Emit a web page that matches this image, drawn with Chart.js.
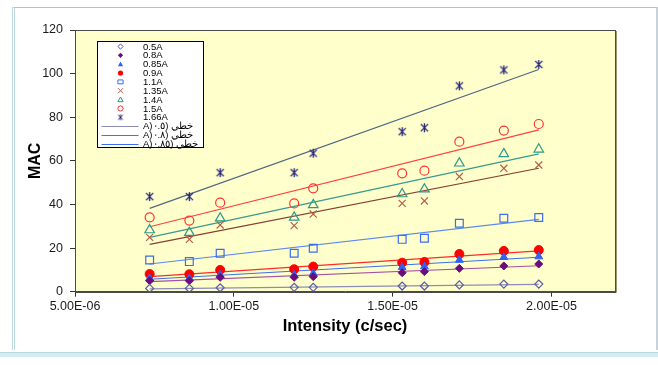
<!DOCTYPE html>
<html>
<head>
<meta charset="utf-8">
<script src="https://cdn.jsdelivr.net/npm/chart.js@4.4.1/dist/chart.umd.min.js"></script>
<style>
  html, body { margin: 0; padding: 0; background: #ffffff; }
  #wrap { position: relative; width: 658px; height: 365px; overflow: hidden; }
  canvas { position: absolute; left: 0; top: 0; }
  .frame { position: absolute; left: 12px; top: 7px; width: 641px; height: 342px;
           border-top: 1px solid #b9bec4; border-right: 2px solid #c9d2d8;
           border-left: 3px double #bcd7de; pointer-events: none; }
  .band { position: absolute; left: 0; top: 352px; width: 658px; height: 4px;
          background: #d4ecf1; border-top: 1px solid #b8d6de; }
</style>
</head>
<body>
<div id="wrap">
  <canvas id="c" width="658" height="365"></canvas>
  <div class="frame"></div>
  <div class="band"></div>
</div>
<script>
// Intensity (c/sec) of each measurement
const intensity = [7.35e-6, 8.6e-6, 9.57e-6, 1.19e-5, 1.25e-5, 1.53e-5, 1.60e-5, 1.71e-5, 1.85e-5, 1.96e-5];

// MAC values per current setting
const mac05  = [1.5, 1.5, 1.8, 2.0, 2.0, 2.6, 2.6, 3.1, 3.5, 3.5];
const mac08  = [5.0, 5.0, 6.6, 6.6, 6.9, 8.7, 9.2, 10.7, 11.8, 12.7];
const mac085 = [6.1, 6.1, 7.7, 7.7, 8.4, 11.2, 11.5, 14.5, 15.8, 16.1];
const mac09  = [8.1, 8.0, 10.0, 10.3, 11.5, 13.3, 13.6, 17.3, 18.7, 19.1];
const mac11  = [14.5, 13.8, 17.6, 17.6, 19.9, 24.0, 24.5, 31.4, 33.7, 34.0];
const mac135 = [24.9, 24.0, 30.6, 30.3, 35.6, 40.5, 41.6, 52.8, 56.6, 58.1];
const mac14  = [28.3, 27.1, 33.7, 34.1, 39.8, 44.8, 47.0, 58.9, 63.2, 65.3];
const mac15  = [34.1, 32.6, 40.8, 40.5, 47.4, 54.3, 55.5, 68.8, 73.9, 76.9];
const mac166 = [43.6, 43.6, 54.6, 54.6, 63.5, 73.4, 75.2, 94.4, 101.7, 104.2];

// Linear trend lines: value at the first and at the last intensity
const trendStart = [1.3, 4.6, 5.7, 6.9, 12.7, 21.7, 24.9, 29.8, 38.2];
const trendEnd   = [3.4, 11.9, 15.8, 18.7, 33.2, 56.6, 63.2, 74.2, 101.9];

const seriesNames = ['0.5A', '0.8A', '0.85A', '0.9A', '1.1A', '1.35A', '1.4A', '1.5A', '1.66A'];
// Trend line captions shown in the key (drawn right-to-left)
const trendNames = ['خطي (٠.٥(A', 'خطي (٠.٨(A', 'خطي (٠.٨٥(A'];

const xTickValues = [5e-6, 1e-5, 1.5e-5, 2e-5];
const yTickStep = 20;

// asterisk marker: an X crossed by a vertical bar
function makeStar(size, color, lw) {
  const cv = document.createElement('canvas');
  cv.width = size; cv.height = size;
  const g = cv.getContext('2d');
  const c = size / 2, r = size / 2 - 1;
  g.strokeStyle = color; g.lineWidth = lw;
  g.beginPath();
  g.moveTo(c - r * 0.8, c - r * 0.8); g.lineTo(c + r * 0.8, c + r * 0.8);
  g.moveTo(c + r * 0.8, c - r * 0.8); g.lineTo(c - r * 0.8, c + r * 0.8);
  g.moveTo(c, c - r); g.lineTo(c, c + r);
  g.stroke();
  return cv;
}

const styles = [
  { marker: 'rectRot',  color: '#5a5aa6', fill: false, r: 4,   trend: '#8c8cba' },
  { marker: 'rectRot',  color: '#6a0c7c', fill: true,  r: 4,   trend: '#a8509e' },
  { marker: 'triangle', color: '#2f62f5', fill: true,  r: 4.5, trend: '#3d6ef0' },
  { marker: 'circle',   color: '#ff0000', fill: true,  r: 4.5, trend: '#ff2a2a' },
  { marker: 'rect',     color: '#3b6cf2', fill: false, r: 5.5, trend: '#5b88f2' },
  { marker: 'crossRot', color: '#b0604e', fill: false, r: 5,   trend: '#8a3c30' },
  { marker: 'triangle', color: '#2a9a8a', fill: false, r: 5.5, trend: '#3a9a8e' },
  { marker: 'circle',   color: '#ff3232', fill: false, r: 4.5, trend: '#ff4040' },
  { marker: 'star',     color: '#22227a', fill: false, r: 5,   trend: '#4f6880' }
];
styles[8].img = makeStar(11, '#22227a', 1.3);
styles[8].imgSmall = makeStar(8, '#22227a', 1);

const series = [mac05, mac08, mac085, mac09, mac11, mac135, mac14, mac15, mac166];

const datasets = [];
series.forEach((vals, i) => {
  const s = styles[i];
  datasets.push({
    type: 'scatter',
    label: seriesNames[i],
    data: vals.map((v, k) => ({ x: intensity[k], y: v })),
    pointStyle: s.img || s.marker,
    pointRadius: s.r,
    pointBorderColor: s.color,
    pointBackgroundColor: s.fill ? s.color : 'rgba(0,0,0,0)',
    pointBorderWidth: s.fill ? 1 : 1.2,
    showLine: false
  });
});
series.forEach((vals, i) => {
  datasets.push({
    type: 'line',
    label: i < trendNames.length ? trendNames[i] : '',
    data: [
      { x: intensity[0], y: trendStart[i] },
      { x: intensity[intensity.length - 1], y: trendEnd[i] }
    ],
    borderColor: styles[i].trend,
    borderWidth: 1.2,
    pointRadius: 0,
    fill: false
  });
});

// yellow plot background and dark plot frame
const plotFrame = {
  id: 'plotFrame',
  beforeDraw(chart) {
    const { ctx, chartArea: a } = chart;
    ctx.save();
    ctx.fillStyle = '#ffffcc';
    ctx.fillRect(a.left, a.top, a.right - a.left, a.bottom - a.top);
    ctx.restore();
  },
  afterDraw(chart) {
    const { ctx, chartArea: a } = chart;
    ctx.save();
    ctx.strokeStyle = '#9b9b6e';
    ctx.lineWidth = 1;
    ctx.beginPath();
    ctx.moveTo(Math.round(a.right) + 1.5, a.top + 1);
    ctx.lineTo(Math.round(a.right) + 1.5, a.bottom + 1);
    ctx.stroke();
    ctx.strokeStyle = '#4a4a4a';
    ctx.strokeRect(Math.round(a.left) + 0.5, Math.round(a.top) + 0.5,
                   Math.round(a.right - a.left), Math.round(a.bottom - a.top));
    ctx.restore();
  }
};

function drawMarker(ctx, s, x, y, r) {
  ctx.save();
  ctx.strokeStyle = s.color;
  ctx.fillStyle = s.color;
  ctx.lineWidth = 1;
  ctx.beginPath();
  switch (s.marker) {
    case 'rectRot':
      ctx.moveTo(x, y - r); ctx.lineTo(x + r, y); ctx.lineTo(x, y + r); ctx.lineTo(x - r, y); ctx.closePath();
      break;
    case 'triangle':
      ctx.moveTo(x, y - r); ctx.lineTo(x + r, y + r * 0.8); ctx.lineTo(x - r, y + r * 0.8); ctx.closePath();
      break;
    case 'circle':
      ctx.arc(x, y, r, 0, Math.PI * 2);
      break;
    case 'rect':
      ctx.rect(x - r, y - r * 0.75, 2 * r, 1.5 * r);
      break;
    case 'crossRot':
      ctx.moveTo(x - r, y - r); ctx.lineTo(x + r, y + r);
      ctx.moveTo(x + r, y - r); ctx.lineTo(x - r, y + r);
      break;
  }
  if (s.marker === 'star') {
    ctx.drawImage(s.imgSmall, x - s.imgSmall.width / 2, y - s.imgSmall.height / 2);
  } else if (s.fill) {
    ctx.fill();
  } else {
    ctx.stroke();
  }
  ctx.restore();
}

// boxed key in the upper-left of the plot
const keyBox = {
  id: 'keyBox',
  afterDraw(chart) {
    const { ctx } = chart;
    const box = { x: 97.5, y: 41.5, w: 106, h: 106 };
    const rowH = 8.85, y0 = 46.5, markX = 120.5, textX = 143;
    ctx.save();
    ctx.fillStyle = '#ffffff';
    ctx.fillRect(box.x, box.y, box.w, box.h);
    ctx.strokeStyle = '#000000';
    ctx.lineWidth = 1;
    ctx.strokeRect(box.x, box.y, box.w, box.h);
    ctx.font = '9.5px "Liberation Sans", Arial, sans-serif';
    ctx.textBaseline = 'middle';
    ctx.fillStyle = '#000000';
    let row = 0;
    chart.data.datasets.forEach((ds, i) => {
      if (!ds.label) return;
      const y = y0 + row * rowH;
      if (ds.type === 'scatter') {
        const s = styles[i];
        drawMarker(ctx, s, markX, y, 2.6);
        ctx.fillStyle = '#000';
        ctx.direction = 'ltr';
        ctx.textAlign = 'left';
        ctx.fillText(ds.label, textX, y + 0.5);
      } else {
        ctx.strokeStyle = ds.borderColor;
        ctx.lineWidth = 1.2;
        ctx.beginPath();
        ctx.moveTo(101.5, Math.round(y) + 0.5);
        ctx.lineTo(138.5, Math.round(y) + 0.5);
        ctx.stroke();
        ctx.fillStyle = '#000';
        ctx.direction = 'rtl';
        ctx.textAlign = 'left';
        ctx.fillText(ds.label, textX, y + 0.5);
      }
      row++;
    });
    ctx.restore();
  }
};

function sci(v) {
  const [m, e] = v.toExponential(2).toUpperCase().split('E');
  const sign = e[0] === '-' ? '-' : '+';
  const digits = e.replace(/[+-]/, '').padStart(2, '0');
  return m + 'E' + sign + digits;
}

Chart.defaults.font.family = '"Liberation Sans", Arial, sans-serif';
Chart.defaults.color = '#1a1a1a';

new Chart(document.getElementById('c'), {
  type: 'scatter',
  data: { datasets },
  options: {
    responsive: false,
    animation: false,
    devicePixelRatio: 1,
    layout: { padding: { left: 0, right: 43, top: 30, bottom: 0 } },
    plugins: { legend: { display: false }, tooltip: { enabled: false } },
    scales: {
      x: {
        type: 'linear',
        min: 5e-6,
        max: 2.2e-5,
        afterBuildTicks: (scale) => { scale.ticks = xTickValues.map(v => ({ value: v })); },
        afterFit: (scale) => { scale.height = 73.3; },
        ticks: { callback: (v) => sci(v), font: { size: 12.5 }, padding: 2, maxRotation: 0, autoSkip: false },
        grid: { drawOnChartArea: false, tickLength: 5, color: '#333333' },
        border: { color: '#4a4a4a' },
        title: { display: true, text: 'Intensity (c/sec)', font: { size: 16.5, weight: 'bold' },
                 color: '#000', padding: { top: 0, bottom: 29 } }
      },
      y: {
        min: 0,
        max: 120,
        afterFit: (scale) => { scale.width = 75; },
        ticks: { stepSize: yTickStep, font: { size: 12.5 }, padding: 7 },
        grid: { drawOnChartArea: false, tickLength: 5, color: '#333333' },
        border: { color: '#4a4a4a' },
        title: { display: true, text: 'MAC', font: { size: 16, weight: 'bold' },
                 color: '#000', padding: { top: 26, bottom: 0 } }
      }
    }
  },
  plugins: [plotFrame, keyBox]
});
</script>
</body>
</html>
